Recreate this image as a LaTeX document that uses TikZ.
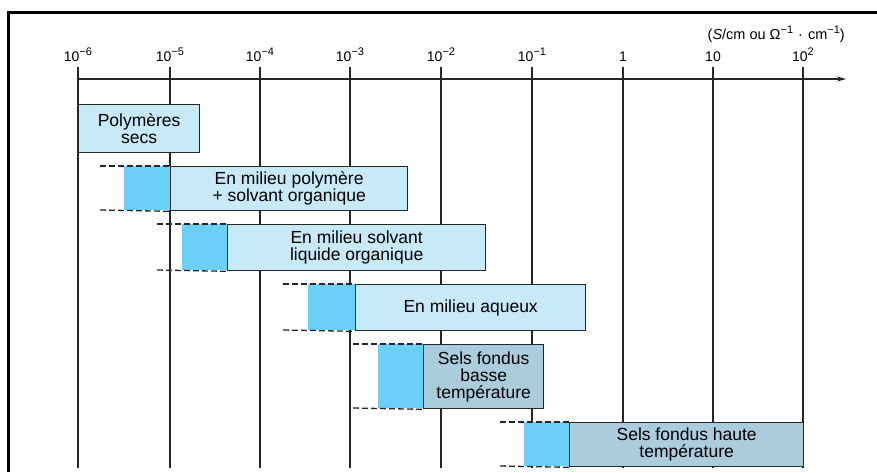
\documentclass[tikz,border=0pt]{standalone}
\usepackage{fontspec}
\setmainfont{Liberation Sans}
\usetikzlibrary{arrows.meta}
\definecolor{lightbox}{HTML}{C8E9F8}
\definecolor{cyanbox}{HTML}{6CCFF6}
\definecolor{graybox}{HTML}{AACCDC}
\newcommand{\supx}[1]{\raisebox{0.4em}{\fontsize{11}{11}\selectfont #1}}
\tikzset{
  grid/.style={line width=1.3pt, black!85},
  box/.style={draw=black!85, line width=1.3pt, anchor=north west, inner sep=0pt, align=center, font=\fontsize{17.5}{17}\selectfont},
  lbox/.style={box, fill=lightbox},
  gbox/.style={box, fill=graybox},
  cbox/.style={fill=cyanbox, anchor=north west, inner sep=0pt},
  dashline/.style={line width=1.3pt, black!85, dash pattern=on 6pt off 3pt},
  ticklab/.style={anchor=base, font=\fontsize{14}{14}\selectfont, inner sep=0pt},
}
\begin{document}
\begin{tikzpicture}[x=1pt,y=-1pt]
\useasboundingbox (0,0) rectangle (877,472);
% frame
\coordinate (frTL) at (8.5,12.5);
\coordinate (frTR) at (877,12.5);
\coordinate (frBL) at (8.5,472);
\draw[line width=2.6pt] (frTR) -- (frTL) -- (frBL);
% axis
\coordinate (axS) at (78,79);
\coordinate (axE) at (846,79);
\draw[grid, -{Stealth[length=9pt,width=5pt]}] (axS) -- (axE);
% grid lines and labels
\foreach \x/\lab [count=\i] in {78/{10\supx{−6}},170/{10\supx{−5}},260/{10\supx{−4}},350/{10\supx{−3}},441/{10\supx{−2}},532/{10\supx{−1}},623/{1},713/{10},803/{10\supx{2}}}{
  \node[ticklab] (lab\i) at (\x,61) {\lab};
  \coordinate (top\i) at (\x,67);
  \coordinate (bot\i) at (\x,468);
  \draw[grid] (top\i) -- (bot\i);
}
\node[anchor=base east, font=\fontsize{14.5}{14.5}\selectfont, inner sep=0pt] (unit) at (845,39) {(\textit{S}/cm ou Ω\supx{−1}\hspace{0.35em}·\hspace{0.35em}cm\supx{−1})};
% row 1
\node[lbox, minimum width=121pt, minimum height=48pt] (b1) at (78,104) {Polymères\\secs};
% row 2
\node[cbox, minimum width=46pt, minimum height=44pt] (c2) at (124,166) {};
\node[lbox, minimum width=237pt, minimum height=44pt] (b2) at (170,166) {En milieu polymère\\+ solvant organique};
\coordinate (d2t) at (100,166); \coordinate (d2b) at (100,210);
\draw[dashline] (d2t) -- (b2.north west);
\draw[dashline] (d2b) -- (b2.south west);
% row 3
\node[cbox, minimum width=45pt, minimum height=46pt] (c3) at (182,224) {};
\node[lbox, minimum width=258pt, minimum height=46pt] (b3) at (227,224) {En milieu solvant\\liquide organique};
\coordinate (d3t) at (157,224); \coordinate (d3b) at (157,270);
\draw[dashline] (d3t) -- (b3.north west);
\draw[dashline] (d3b) -- (b3.south west);
% row 4
\node[cbox, minimum width=47pt, minimum height=46pt] (c4) at (308,284) {};
\node[lbox, minimum width=230pt, minimum height=46pt] (b4) at (355,284) {En milieu aqueux};
\coordinate (d4t) at (283,284); \coordinate (d4b) at (283,330);
\draw[dashline] (d4t) -- (b4.north west);
\draw[dashline] (d4b) -- (b4.south west);
% row 5
\node[cbox, minimum width=45pt, minimum height=64pt] (c5) at (378,344) {};
\node[gbox, minimum width=120pt, minimum height=64pt] (b5) at (423,344) {Sels fondus\\basse\\température};
\coordinate (d5t) at (353,344); \coordinate (d5b) at (353,408);
\draw[dashline] (d5t) -- (b5.north west);
\draw[dashline] (d5b) -- (b5.south west);
% row 6
\node[cbox, minimum width=45pt, minimum height=44pt] (c6) at (524,422) {};
\node[gbox, minimum width=234pt, minimum height=44pt] (b6) at (569,422) {Sels fondus haute\\température};
\coordinate (d6t) at (500,422); \coordinate (d6b) at (500,466);
\draw[dashline] (d6t) -- (b6.north west);
\draw[dashline] (d6b) -- (b6.south west);
\end{tikzpicture}
\end{document}
